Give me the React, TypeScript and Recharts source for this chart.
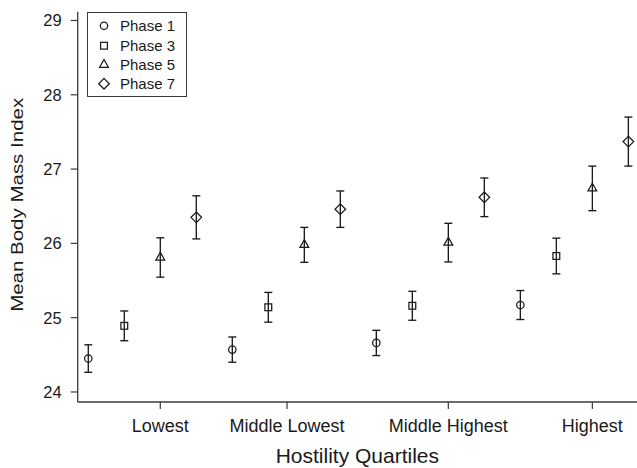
import React from 'react';
import { ScatterChart, Scatter, XAxis, YAxis, ErrorBar } from 'recharts';

const categories = ['Lowest', 'Middle Lowest', 'Middle Highest', 'Highest'];
const categoryTickPositions = [3, 6.52, 11, 15];
const phaseNames = ['Phase 1', 'Phase 3', 'Phase 5', 'Phase 7'];
const phaseMarkers = ['circle', 'square', 'triangle', 'diamond'];

const phase1Means = [24.45, 24.57, 24.66, 25.17];
const phase1Errors = [0.185, 0.17, 0.17, 0.195];
const phase3Means = [24.89, 25.14, 25.16, 25.83];
const phase3Errors = [0.2, 0.2, 0.195, 0.24];
const phase5Means = [25.81, 25.98, 26.01, 26.74];
const phase5Errors = [0.265, 0.235, 0.26, 0.3];
const phase7Means = [26.35, 26.46, 26.62, 27.37];
const phase7Errors = [0.29, 0.245, 0.26, 0.33];

const yTicks = [24, 25, 26, 27, 28, 29];

const seriesMeans = [phase1Means, phase3Means, phase5Means, phase7Means];
const seriesErrors = [phase1Errors, phase3Errors, phase5Errors, phase7Errors];

const FONT = '"Liberation Sans", Arial, Helvetica, sans-serif';
const INK = '#1a1a1a';
const AXIS = '#3a3a3a';

function drawMarker(kind: string, cx: number, cy: number, key?: string) {
  const common = { fill: 'none', stroke: INK, strokeWidth: 1.25 };
  if (kind === 'circle') return <circle key={key} cx={cx} cy={cy} r={3.7} {...common} />;
  if (kind === 'square')
    return <rect key={key} x={cx - 3.4} y={cy - 3.4} width={6.8} height={6.8} {...common} />;
  if (kind === 'triangle')
    return (
      <polygon
        key={key}
        points={`${cx},${cy - 5.2} ${cx + 4.4},${cy + 2.6} ${cx - 4.4},${cy + 2.6}`}
        {...common}
      />
    );
  return (
    <polygon
      key={key}
      points={`${cx},${cy - 5.3} ${cx + 5.3},${cy} ${cx},${cy + 5.3} ${cx - 5.3},${cy}`}
      {...common}
    />
  );
}

const makeShape = (kind: string) => (props: any) => {
  const { cx, cy } = props;
  if (cx == null || cy == null) return <g />;
  return <g>{drawMarker(kind, cx, cy)}</g>;
};

const seriesData = phaseNames.map((_, p) =>
  categories.map((c, g) => ({
    x: g * 4 + p + 1,
    y: seriesMeans[p][g],
    err: seriesErrors[p][g],
    category: c,
  }))
);

const XTitle = (props: any) => {
  const vb = props.viewBox || {};
  return (
    <text
      x={vb.x + vb.width / 2}
      y={vb.y + 61}
      textAnchor="middle"
      fontFamily={FONT}
      fontSize={21}
      fill={INK}
    >
      Hostility Quartiles
    </text>
  );
};

const YTitle = (props: any) => {
  const vb = props.viewBox || {};
  const cy = vb.y + vb.height / 2 - 2;
  const x = 22.7;
  return (
    <text
      x={x}
      y={cy}
      transform={`rotate(-90, ${x}, ${cy})`}
      textAnchor="middle"
      fontFamily={FONT}
      fontSize={16}
      textLength={214}
      lengthAdjust="spacingAndGlyphs"
      fill={INK}
    >
      Mean Body Mass Index
    </text>
  );
};

export default function App() {
  return (
    <div style={{ position: 'absolute', left: 0, top: 0, width: 637, height: 468, background: '#fff' }}>
      <ScatterChart
        width={637}
        height={468}
        margin={{ top: 11.7, right: 0, left: 0, bottom: 0 }}
        style={{ fontFamily: FONT }}
      >
        <XAxis
          type="number"
          dataKey="x"
          domain={[0.706, 16.24]}
          allowDataOverflow
          ticks={categoryTickPositions}
          tickFormatter={(v: number) => categories[categoryTickPositions.indexOf(v)] ?? ''}
          height={66}
          interval={0}
          stroke={AXIS}
          axisLine={{ stroke: AXIS, strokeWidth: 1.3 }}
          tickLine={{ stroke: AXIS, strokeWidth: 1.2 }}
          tickSize={7}
          tickMargin={10}
          tick={{ fill: INK, fontSize: 18, fontFamily: FONT }}
          label={<XTitle />}
        />
        <YAxis
          type="number"
          dataKey="y"
          domain={[23.865, 29.118]}
          allowDataOverflow
          ticks={yTicks}
          interval={0}
          width={77.7}
          stroke={AXIS}
          axisLine={{ stroke: AXIS, strokeWidth: 1.3 }}
          tickLine={{ stroke: AXIS, strokeWidth: 1.2 }}
          tickSize={7}
          tickMargin={9}
          tick={{ fill: INK, fontSize: 16.5, fontFamily: FONT }}
          label={<YTitle />}
        />
        {phaseNames.map((name, p) => (
          <Scatter
            key={name}
            name={name}
            data={seriesData[p]}
            isAnimationActive={false}
            shape={makeShape(phaseMarkers[p])}
          >
            <ErrorBar dataKey="err" direction="y" width={4} stroke={INK} strokeWidth={1.35} isAnimationActive={false} />
          </Scatter>
        ))}
      </ScatterChart>
      <div
        style={{
          position: 'absolute',
          left: 87,
          top: 11.7,
          width: 100,
          height: 85,
          boxSizing: 'border-box',
          border: `1px solid ${AXIS}`,
          background: '#fff',
          fontFamily: FONT,
          fontSize: 15,
          color: INK,
          paddingTop: 3.5,
        }}
      >
        {phaseNames.map((name, p) => (
          <div key={name} style={{ display: 'flex', alignItems: 'center', height: 19.4 }}>
            <svg width={32} height={19.4} style={{ flex: 'none' }}>
              {drawMarker(phaseMarkers[p], 16, 9.7)}
            </svg>
            <span style={{ lineHeight: '19.4px' }}>{name}</span>
          </div>
        ))}
      </div>
    </div>
  );
}
